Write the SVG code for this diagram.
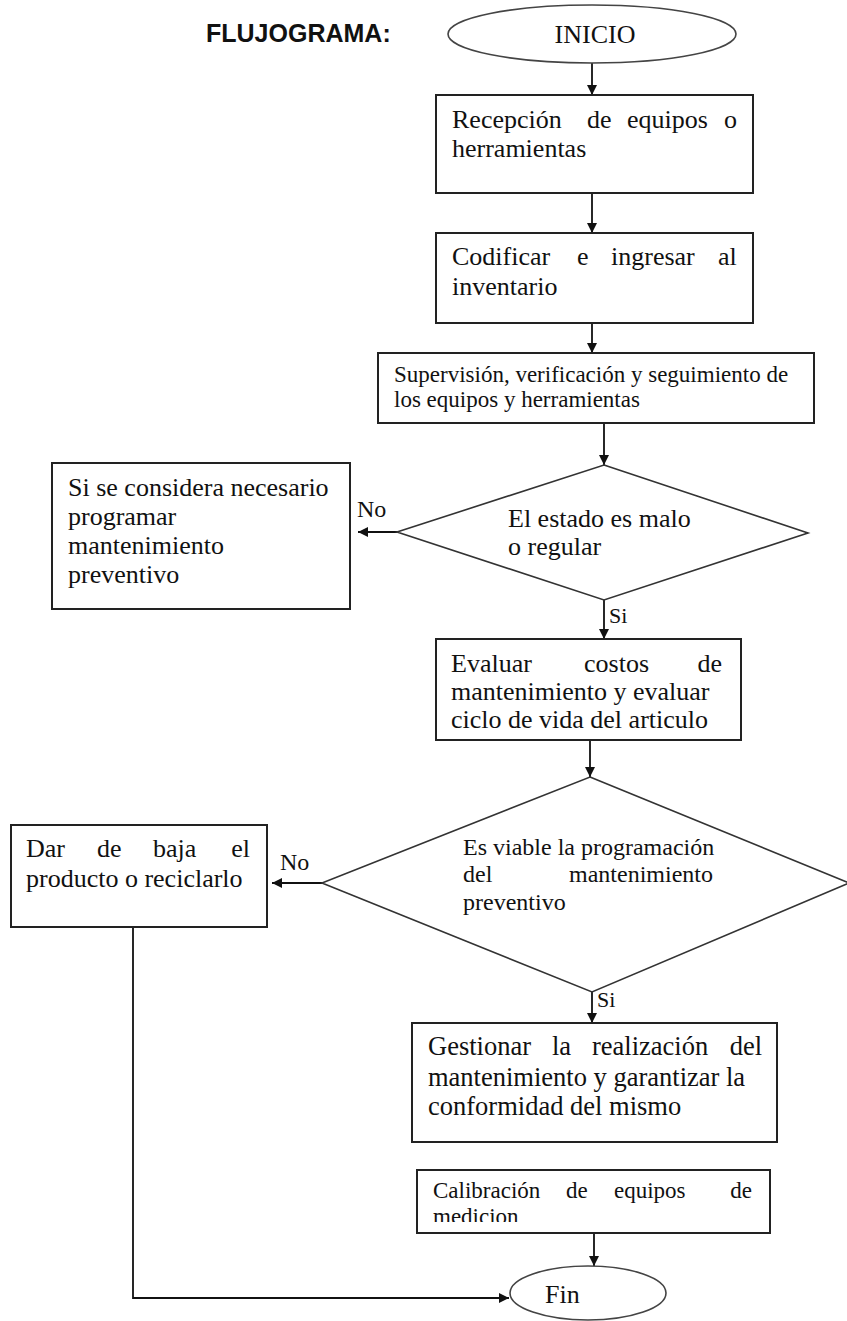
<svg xmlns="http://www.w3.org/2000/svg" width="847" height="1321" viewBox="0 0 847 1321">
  <style>
    .box { fill: #fff; stroke: #222; stroke-width: 2; }
    .dia { fill: #fff; stroke: #333; stroke-width: 1.6; }
    .term { fill: #fff; stroke: #444; stroke-width: 1.6; }
    .conn { fill: none; stroke: #111; stroke-width: 1.8; }
    .t { font-family: "Liberation Serif", "Times New Roman", serif; font-size: 26px; fill: #111; }
    .small { font-size: 23px; }
    .mid { font-size: 24px; }
    .lbl { font-family: "Liberation Serif", "Times New Roman", serif; font-size: 24px; fill: #111; }
    .title { font-family: "Liberation Sans", Arial, sans-serif; font-size: 25px; font-weight: bold; fill: #111; }
  </style>
  <defs>
    <marker id="arrow" viewBox="0 0 10 10" refX="10" refY="5" markerWidth="11" markerHeight="10" orient="auto" markerUnits="userSpaceOnUse">
      <path d="M0,0 L10,5 L0,10 Z" fill="#111"/>
    </marker>
    <!-- the second line of the calibration box sits on the bottom edge and is cut off -->
    <clipPath id="clipCal">
      <rect x="417" y="1170" width="353" height="52"/>
    </clipPath>
  </defs>

  <rect width="847" height="1321" fill="#fff"/>

  <text class="title" x="206" y="42">FLUJOGRAMA:</text>

  <g id="connectors">
    <line class="conn" x1="592" y1="63" x2="592" y2="95" marker-end="url(#arrow)"/>
    <line class="conn" x1="592" y1="193" x2="592" y2="233" marker-end="url(#arrow)"/>
    <line class="conn" x1="592" y1="323" x2="592" y2="353" marker-end="url(#arrow)"/>
    <line class="conn" x1="604" y1="423" x2="604" y2="465" marker-end="url(#arrow)"/>
    <line class="conn" x1="397" y1="532" x2="358" y2="532" marker-end="url(#arrow)"/>
    <line class="conn" x1="604" y1="600" x2="604" y2="639" marker-end="url(#arrow)"/>
    <line class="conn" x1="590" y1="740" x2="590" y2="777" marker-end="url(#arrow)"/>
    <line class="conn" x1="322" y1="883" x2="272" y2="883" marker-end="url(#arrow)"/>
    <line class="conn" x1="592" y1="992" x2="592" y2="1023" marker-end="url(#arrow)"/>
    <line class="conn" x1="594" y1="1233" x2="594" y2="1266" marker-end="url(#arrow)"/>
    <polyline class="conn" points="133,927 133,1298 509,1298" marker-end="url(#arrow)"/>
    <text class="lbl" x="357" y="517">No</text>
    <text class="lbl" x="609" y="623" style="font-size:22px">Si</text>
    <text class="lbl" x="280" y="870">No</text>
    <text class="lbl" x="597" y="1007" style="font-size:22px">Si</text>
  </g>

  <g id="inicio">
    <ellipse class="term" cx="592" cy="34" rx="144" ry="29"/>
    <text class="t" x="595" y="43" text-anchor="middle">INICIO</text>
  </g>

  <g id="recepcion">
    <rect class="box" x="436" y="95" width="317" height="98"/>
    <text class="t" y="128"><tspan x="452">Recepción</tspan><tspan x="587">de</tspan><tspan x="627">equipos</tspan><tspan x="724">o</tspan></text>
    <text class="t" x="452" y="157">herramientas</text>
  </g>

  <g id="codificar">
    <rect class="box" x="436" y="233" width="317" height="90"/>
    <text class="t" y="265"><tspan x="452">Codificar</tspan><tspan x="577">e</tspan><tspan x="611">ingresar</tspan><tspan x="718">al</tspan></text>
    <text class="t" x="452" y="295">inventario</text>
  </g>

  <g id="supervision">
    <rect class="box" x="378" y="353" width="436" height="70"/>
    <text class="t small" x="394" y="382">Supervisión, verificación y seguimiento de</text>
    <text class="t small" x="394" y="407">los equipos y herramientas</text>
  </g>

  <g id="estado">
    <polygon class="dia" points="604,465 808,533 604,600 397,532"/>
    <text class="t" x="508" y="527">El estado es malo</text>
    <text class="t" x="508" y="555">o regular</text>
  </g>

  <g id="preventivo">
    <rect class="box" x="52" y="463" width="298" height="146"/>
    <text class="t" x="68" y="496">Si se considera necesario</text>
    <text class="t" x="68" y="525">programar</text>
    <text class="t" x="68" y="554">mantenimiento</text>
    <text class="t" x="68" y="583">preventivo</text>
  </g>

  <g id="evaluar">
    <rect class="box" x="436" y="639" width="305" height="101"/>
    <text class="t" y="672"><tspan x="451">Evaluar</tspan><tspan x="584">costos</tspan><tspan x="722" text-anchor="end">de</tspan></text>
    <text class="t" x="451" y="700">mantenimiento y evaluar</text>
    <text class="t" x="451" y="728">ciclo de vida del articulo</text>
  </g>

  <g id="viable">
    <polygon class="dia" points="590,777 849,883 592,992 322,883"/>
    <text class="t mid" x="463" y="855">Es viable la programación</text>
    <text class="t mid" y="882"><tspan x="463">del</tspan><tspan x="713" text-anchor="end">mantenimiento</tspan></text>
    <text class="t mid" x="463" y="910">preventivo</text>
  </g>

  <g id="baja">
    <rect class="box" x="11" y="825" width="256" height="102"/>
    <text class="t" y="857"><tspan x="26">Dar</tspan><tspan x="97">de</tspan><tspan x="153">baja</tspan><tspan x="250" text-anchor="end">el</tspan></text>
    <text class="t" x="26" y="887">producto o reciclarlo</text>
  </g>

  <g id="gestionar">
    <rect class="box" x="412" y="1023" width="365" height="119"/>
    <text class="t" y="1055" style="font-size:26.5px"><tspan x="428">Gestionar</tspan><tspan x="552">la</tspan><tspan x="592">realización</tspan><tspan x="762" text-anchor="end">del</tspan></text>
    <text class="t" x="428" y="1086" style="font-size:26.5px">mantenimiento y garantizar la</text>
    <text class="t" x="428" y="1115" style="font-size:26.5px">conformidad del mismo</text>
  </g>

  <g id="calibracion">
    <rect class="box" x="417" y="1170" width="353" height="63"/>
    <text class="t small" y="1198"><tspan x="433">Calibración</tspan><tspan x="566">de</tspan><tspan x="614">equipos</tspan><tspan x="752" text-anchor="end">de</tspan></text>
    <text class="t small" x="433" y="1224" clip-path="url(#clipCal)">medicion</text>
  </g>

  <g id="fin">
    <ellipse class="term" cx="588" cy="1293" rx="78" ry="27"/>
    <text class="t" x="545" y="1303">Fin</text>
  </g>
</svg>
